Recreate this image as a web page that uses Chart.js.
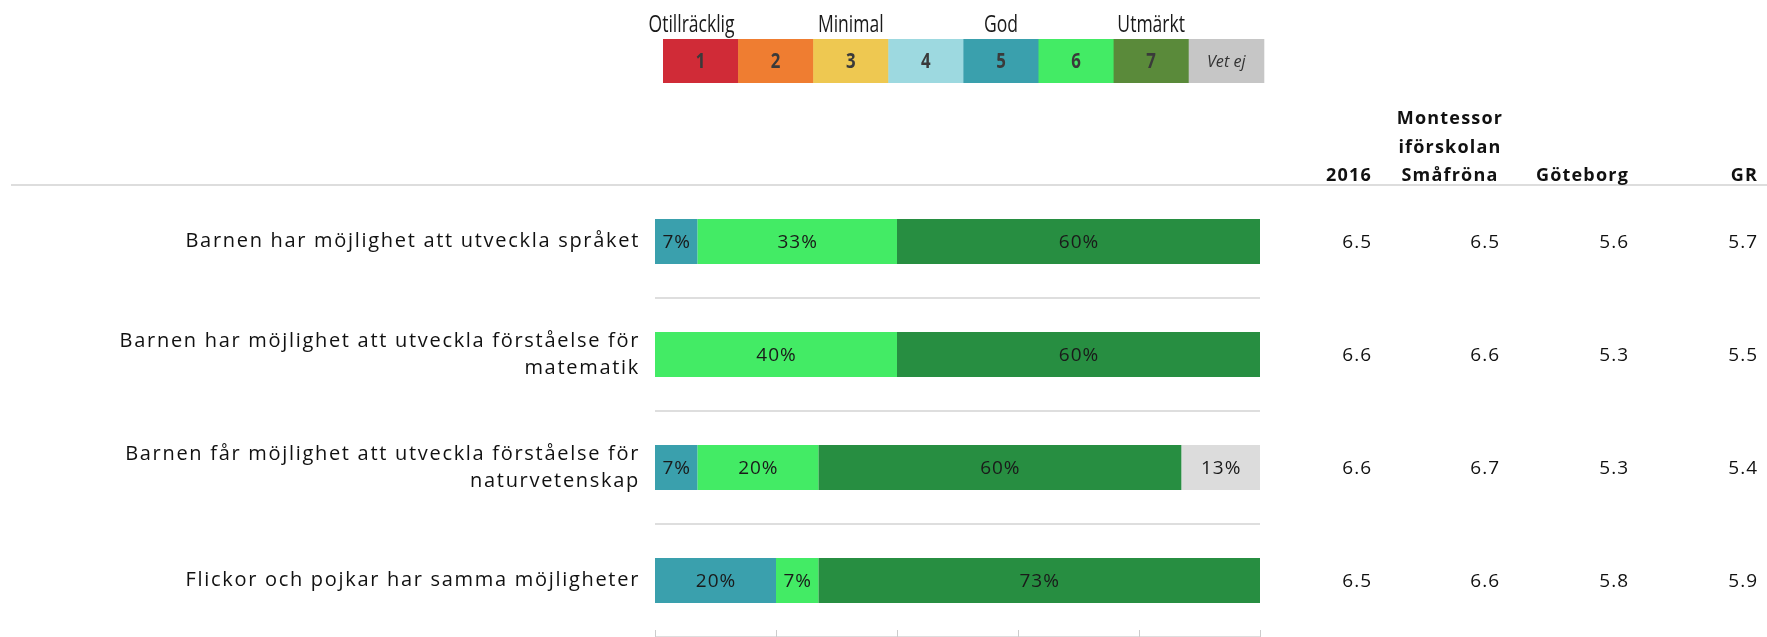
<!DOCTYPE html>
<html>
<head>
<meta charset="utf-8">
<script src="https://cdn.jsdelivr.net/npm/chart.js@4.4.1/dist/chart.umd.min.js"></script>
<style>
  html, body { margin: 0; padding: 0; background: #ffffff; }
  #wrap { width: 1767px; height: 637px; position: relative; overflow: hidden; }
</style>
</head>
<body>
<div id="wrap"><canvas id="c" width="1767" height="637"></canvas></div>
<script>
// ---------- data ----------
const categories = [
  ["Barnen har möjlighet att utveckla språket"],
  ["Barnen har möjlighet att utveckla förståelse för", "matematik"],
  ["Barnen får möjlighet att utveckla förståelse för", "naturvetenskap"],
  ["Flickor och pojkar har samma möjligheter"]
];
const seriesNames = ["5", "6", "7", "Vet ej"];
const grade5 = [7, 0, 7, 20];
const grade6 = [33, 40, 20, 7];
const grade7 = [60, 60, 60, 73];
const vetEj  = [0, 0, 13, 0];

const columnHeaders = [["2016"], ["Montessor", "iförskolan", "Småfröna"], ["Göteborg"], ["GR"]];
const col2016       = ["6.5", "6.6", "6.6", "6.5"];
const colMontessori = ["6.5", "6.6", "6.7", "6.6"];
const colGoteborg   = ["5.6", "5.3", "5.3", "5.8"];
const colGR         = ["5.7", "5.5", "5.4", "5.9"];

const legendLabels = ["1", "2", "3", "4", "5", "6", "7", "Vet ej"];
const legendColors = ["#d02b37", "#ef7d31", "#eec851", "#9dd9e0", "#3aa0ad", "#43eb65", "#5a8a3a", "#c6c6c6"];
const scaleWords = ["Otillräcklig", "Minimal", "God", "Utmärkt"];
const scaleWordBox = [0, 2, 4, 6];

const xTicks = [0, 20, 40, 60, 80, 100];

// ---------- styling ----------
const BAR_COLORS = ["#3aa0ad", "#43eb65", "#278e41", "#dcdcdc"];
const FONT = "'Open Sans', 'Noto Sans', sans-serif";
const WORD_SHIFT = [-9, 0, 0, 0];

function condensedText(ctx, text, x, y, sx) {
  ctx.save();
  ctx.translate(x, y);
  ctx.scale(sx, 1);
  ctx.fillText(text, 0, 0);
  ctx.restore();
}

const overlay = {
  id: 'overlay',
  beforeDraw(chart) {
    chart.ctx.letterSpacing = '1.7px';
  },
  afterDraw(chart) {
    const ctx = chart.ctx;
    const x = chart.scales.x, y = chart.scales.y;
    ctx.save();

    // wide header separator line
    ctx.strokeStyle = '#dddddd';
    ctx.lineWidth = 2;
    ctx.beginPath();
    ctx.moveTo(11, chart.chartArea.top);
    ctx.lineTo(1767, chart.chartArea.top);
    ctx.stroke();

    // bottom tick marks
    ctx.strokeStyle = '#cccccc';
    ctx.lineWidth = 1;
    xTicks.forEach(v => {
      const px = Math.round(x.getPixelForValue(v)) + 0.5;
      ctx.beginPath();
      ctx.moveTo(px, chart.chartArea.bottom - 7);
      ctx.lineTo(px, chart.chartArea.bottom);
      ctx.stroke();
    });

    // segment labels
    ctx.letterSpacing = '1px';
    ctx.font = "19px " + FONT;
    ctx.textAlign = 'center';
    ctx.textBaseline = 'middle';
    ctx.fillStyle = '#1a1a1a';
    chart.data.datasets.forEach((ds, di) => {
      const meta = chart.getDatasetMeta(di);
      meta.data.forEach((bar, i) => {
        const v = ds.data[i];
        if (!v) return;
        const cx = (bar.x + bar.base) / 2;
        ctx.fillText(v + '%', cx + 0.5, bar.y + 1);
      });
    });

    // right columns
    const colRight = [1372, 1500, 1629, 1758];
    const cols = [col2016, colMontessori, colGoteborg, colGR];
    ctx.font = "19px " + FONT;
    ctx.letterSpacing = '1px';
    ctx.textAlign = 'right';
    ctx.fillStyle = '#111111';
    cols.forEach((col, ci) => {
      col.forEach((val, i) => {
        ctx.fillText(val, colRight[ci], y.getPixelForValue(i) + 1);
      });
    });

    // column headers
    ctx.font = "bold 18px " + FONT;
    ctx.letterSpacing = '1.2px';
    ctx.textBaseline = 'alphabetic';
    columnHeaders.forEach((lines, ci) => {
      const n = lines.length;
      lines.forEach((ln, li) => {
        const by = 181 - (n - 1 - li) * 28.5;
        if (ci === 1) {
          ctx.textAlign = 'center';
          ctx.fillText(ln, 1450, by);
        } else {
          ctx.textAlign = 'right';
          ctx.fillText(ln, colRight[ci], by);
        }
      });
    });

    // legend boxes
    const lx0 = 663, lw = 75.1, ly = 39, lh = 44;
    ctx.letterSpacing = '0px';
    legendLabels.forEach((lab, i) => {
      ctx.fillStyle = legendColors[i];
      ctx.fillRect(lx0 + i * lw, ly, lw + 0.5, lh);
      ctx.fillStyle = '#3a3a3a';
      ctx.textAlign = 'center';
      ctx.textBaseline = 'middle';
      const cx = lx0 + (i + 0.5) * lw, cy = ly + lh / 2 + 1;
      if (lab === 'Vet ej') {
        ctx.font = "italic 17px " + FONT;
        ctx.fillStyle = '#333333';
        condensedText(ctx, lab, cx, cy, 0.95);
      } else {
        ctx.font = "bold 21px " + FONT;
        condensedText(ctx, lab, cx, cy, 0.8);
      }
    });
    ctx.font = "24px " + FONT;
    ctx.fillStyle = '#1a1a1a';
    ctx.textAlign = 'center';
    ctx.textBaseline = 'alphabetic';
    scaleWords.forEach((w, k) => {
      condensedText(ctx, w, lx0 + (scaleWordBox[k] + 0.5) * lw + WORD_SHIFT[k], 32, 0.73);
    });

    ctx.restore();
  }
};

const datasets = [grade5, grade6, grade7, vetEj].map((d, i) => ({
  label: seriesNames[i],
  data: d,
  backgroundColor: BAR_COLORS[i],
  borderWidth: 0,
  barPercentage: 0.4,
  categoryPercentage: 1.0
}));

new Chart(document.getElementById('c'), {
  type: 'bar',
  data: { labels: categories, datasets },
  options: {
    indexAxis: 'y',
    responsive: false,
    animation: false,
    devicePixelRatio: 1,
    layout: { padding: { top: 185, right: 507, bottom: 0, left: 0 } },
    plugins: { legend: { display: false }, tooltip: { enabled: false } },
    scales: {
      x: {
        stacked: true, min: 0, max: 100, display: false
      },
      y: {
        stacked: true,
        afterFit(scale) {
          scale.width = 655;
          scale.paddingTop = 0;
          scale.paddingBottom = 0;
        },
        grid: { offset: true, color: '#dedede', lineWidth: 2, drawTicks: false },
        border: { display: false },
        ticks: {
          padding: 15,
          color: '#111111',
          font: { family: FONT, size: 20, lineHeight: 1.35 }
        }
      }
    }
  },
  plugins: [overlay]
});
</script>
</body>
</html>
